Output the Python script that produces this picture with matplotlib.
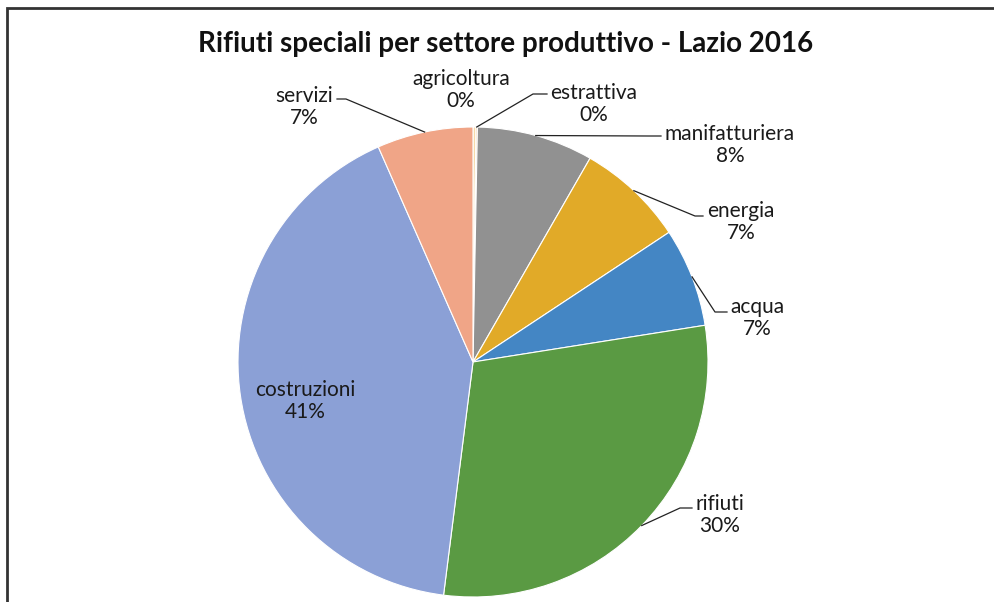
import numpy as np
import matplotlib.pyplot as plt
from matplotlib.patches import Rectangle

plt.rcParams['font.family'] = ['Lato', 'DejaVu Sans']

# data (shares in %)
sectors = ["agricoltura", "estrattiva", "manifatturiera", "energia",
           "acqua", "rifiuti", "costruzioni", "servizi"]
shares = [0.2, 0.1, 8.0, 7.4, 6.8, 29.5, 41.4, 6.6]
pct_labels = ["0%", "0%", "8%", "7%", "7%", "30%", "41%", "7%"]
colors = ["#F7D9A8", "#F2B36B", "#919191", "#E1AA28",
          "#4486C4", "#5A9A43", "#8BA0D6", "#F0A587"]

H = 602  # image height, to convert from top-down pixel positions

# layout: label centre, leader elbow and leader end (pixels from top-left)
label_pos = {
    "agricoltura": (461, 90),
    "estrattiva": (594, 104),
    "manifatturiera": (730, 145),
    "energia": (741, 222),
    "acqua": (757, 318),
    "rifiuti": (720, 515),
    "costruzioni": (305, 401),
    "servizi": (304, 107),
}
leaders = {
    "servizi": [(346, 99), (337, 99)],
    "estrattiva": [(533, 94), (547, 94)],
    "manifatturiera": [(648, 136), (661, 136)],
    "energia": [(695, 216), (703, 216)],
    "acqua": [(715, 312), (727, 312)],
    "rifiuti": [(680, 508), (692, 508)],
}

fig = plt.figure(figsize=(9.95, 6.02), dpi=100)
ax = fig.add_axes([0, 0, 1, 1])

cx, cy, r = 473, H - 362, 235
wedges, _ = ax.pie(shares, colors=colors, startangle=90, counterclock=False,
                   center=(cx, cy), radius=r,
                   wedgeprops=dict(edgecolor="white", linewidth=0.8))

ax.set_xlim(0, 995)
ax.set_ylim(0, H)
ax.set_aspect("equal")
ax.axis("off")

for w, name, pct in zip(wedges, sectors, pct_labels):
    lx, ly = label_pos[name]
    ax.text(lx, H - ly, f"{name}\n{pct}", ha="center", va="center",
            fontsize=15, color="#1a1a1a", linespacing=1.15)
    if name in leaders:
        mid = np.deg2rad((w.theta1 + w.theta2) / 2)
        pts = [(cx + r * np.cos(mid), cy + r * np.sin(mid))]
        pts += [(x, H - y) for x, y in leaders[name]]
        xs, ys = zip(*pts)
        ax.plot(xs, ys, color="#222222", lw=0.9)

ax.text(506, H - 44, "Rifiuti speciali per settore produttivo - Lazio 2016",
        ha="center", va="center", fontsize=20, fontweight="bold", color="#111111")

# chart frame (cropped at right and bottom)
ax.add_patch(Rectangle((7, -20), 1100, H - 8 + 20, fill=False,
                       edgecolor="#333333", lw=2, clip_on=False))

fig.savefig("out.png", dpi=100)
